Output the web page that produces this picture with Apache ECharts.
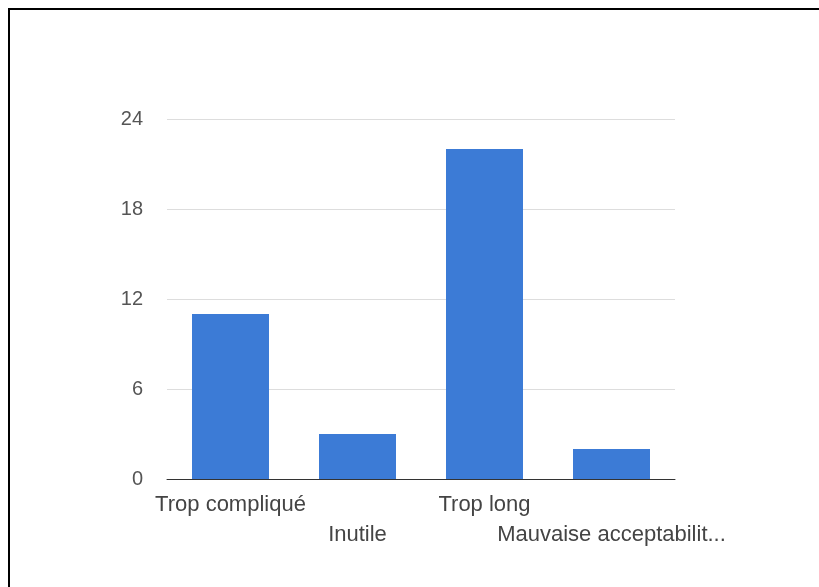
<!DOCTYPE html>
<html>
<head>
<meta charset="utf-8">
<script src="https://cdn.jsdelivr.net/npm/echarts@6/dist/echarts.min.js"></script>
<style>
  html, body { margin: 0; padding: 0; background: #fff; }
  #wrap { position: relative; width: 819px; height: 587px; overflow: hidden; }
  #frame { position: absolute; left: 8px; top: 8px; right: -10px; bottom: -10px;
           border-left: 2px solid #000; border-top: 2px solid #000; pointer-events: none; }
  #chart { position: absolute; left: 0; top: 0; width: 819px; height: 587px; }
</style>
</head>
<body>
<div id="wrap">
  <div id="chart"></div>
  <div id="frame"></div>
</div>
<script>
const categories = ["Trop compliqué", "Inutile", "Trop long", "Mauvaise acceptabilit..."];
const counts = [11, 3, 22, 2];
const yTicks = { min: 0, max: 24, interval: 6 };

const chart = echarts.init(document.getElementById("chart"));
chart.setOption({
  animation: false,
  grid: { left: 167, right: 144, top: 119, bottom: 108 },
  xAxis: {
    type: "category",
    data: categories,
    axisTick: { show: false },
    axisLine: { lineStyle: { color: "#333", width: 1 } },
    axisLabel: {
      interval: 0,
      color: "#444",
      fontFamily: "Liberation Sans, Arial",
      fontSize: 22,
      lineHeight: 30,
      margin: 11,
      // stagger the labels on two rows
      formatter: (v, i) => (i % 2 ? "\n" + v : v)
    }
  },
  yAxis: {
    type: "value",
    min: yTicks.min,
    max: yTicks.max,
    interval: yTicks.interval,
    axisLine: { show: false },
    axisTick: { show: false },
    splitLine: { lineStyle: { color: "#ddd", width: 1 } },
    axisLabel: {
      color: "#555",
      fontFamily: "Liberation Sans, Arial",
      fontSize: 20,
      margin: 24
    }
  },
  series: [{
    type: "bar",
    data: counts,
    barWidth: 77,
    itemStyle: { color: "#3c7bd6" }
  }]
});
</script>
</body>
</html>
